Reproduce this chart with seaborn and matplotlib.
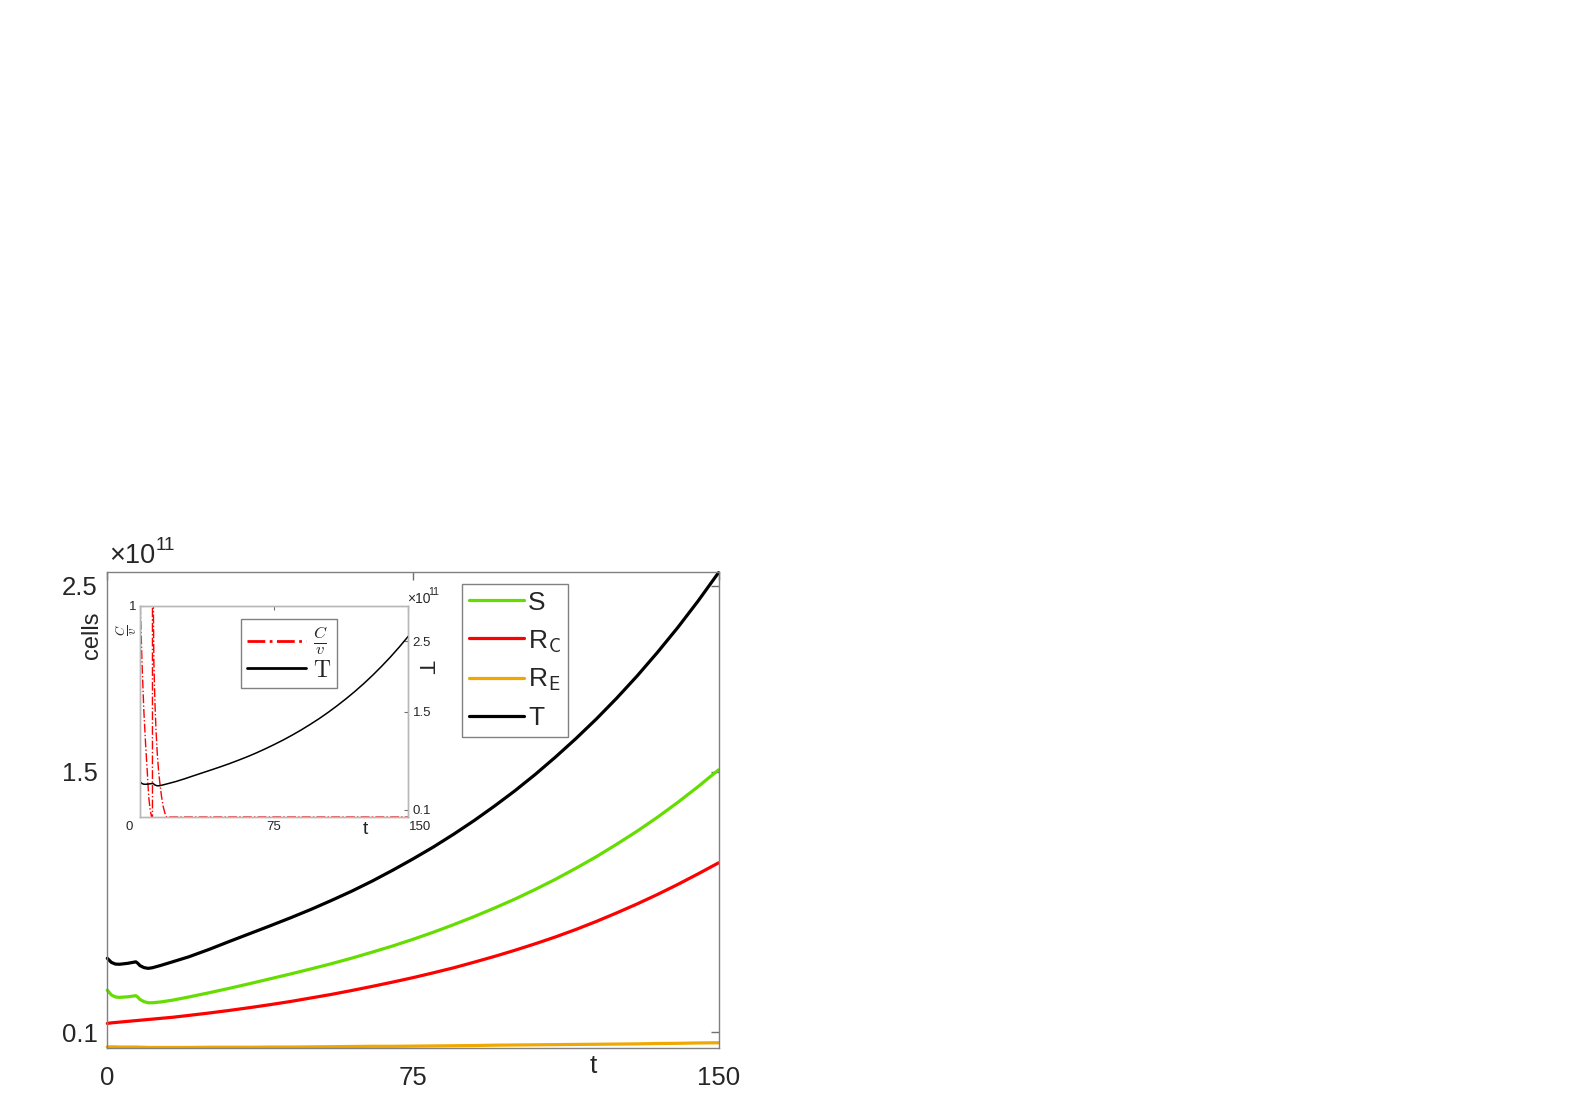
import matplotlib
matplotlib.use('Agg')
import matplotlib.pyplot as plt
from matplotlib.lines import Line2D
import seaborn as sns

# time points
t = [0, 1, 2, 3, 5, 7, 7.5, 8, 9, 10, 11, 13, 16, 20, 25, 30, 35, 40, 45, 50,
     55, 60, 65, 70, 75, 80, 85, 90, 95, 100, 105, 110, 115, 120, 125,
     130, 135, 140, 145, 150]

# cell populations, in units of 1e11 cells
T = [0.497, 0.475, 0.466, 0.465, 0.470, 0.478, 0.470, 0.458, 0.447, 0.443,
     0.446, 0.458, 0.478, 0.505, 0.545, 0.588, 0.630, 0.672, 0.715, 0.760,
     0.808, 0.858, 0.912, 0.970, 1.031, 1.095, 1.164, 1.237, 1.315, 1.397,
     1.485, 1.579, 1.678, 1.783, 1.895, 2.014, 2.141, 2.275, 2.418, 2.570]
S = [0.326, 0.300, 0.289, 0.287, 0.290, 0.296, 0.288, 0.276, 0.264, 0.258,
     0.258, 0.262, 0.272, 0.289, 0.312, 0.336, 0.361, 0.387, 0.413, 0.440,
     0.468, 0.498, 0.530, 0.563, 0.599, 0.637, 0.678, 0.721, 0.767, 0.815,
     0.867, 0.922, 0.981, 1.043, 1.110, 1.180, 1.255, 1.335, 1.420, 1.510]
R_C = [0.147, 0.150, 0.152, 0.154, 0.158, 0.162, 0.163, 0.164, 0.166, 0.168,
       0.170, 0.174, 0.180, 0.190, 0.203, 0.217, 0.232, 0.248, 0.265, 0.284,
       0.303, 0.324, 0.346, 0.369, 0.393, 0.419, 0.446, 0.476, 0.507, 0.540,
       0.575, 0.612, 0.652, 0.695, 0.741, 0.789, 0.840, 0.894, 0.951, 1.010]
R_E = [0.021, 0.021, 0.021, 0.020, 0.020, 0.020, 0.020, 0.019, 0.019, 0.018,
       0.018, 0.018, 0.018, 0.018, 0.019, 0.019, 0.019, 0.020, 0.020, 0.021,
       0.022, 0.023, 0.024, 0.024, 0.025, 0.026, 0.027, 0.028, 0.030, 0.031,
       0.032, 0.033, 0.034, 0.035, 0.036, 0.037, 0.039, 0.040, 0.042, 0.043]

# drug concentration C/v for the inset (two doses)
t_drug = [0, 0.5, 1, 1.5, 2, 2.5, 3, 3.5, 4, 4.7, 5.5, 6.3, 6.8, 6.8, 7.2,
          7.6, 8.2, 8.8, 9.5, 10.3, 11.1, 11.9, 12.8, 13.7, 14.7, 150]
c_over_v = [1.0, 0.86, 0.72, 0.61, 0.50, 0.42, 0.34, 0.27, 0.20, 0.096, 0.035,
            0.0, 0.0, 2.0, 1.1, 0.73, 0.54, 0.41, 0.30, 0.21, 0.15, 0.096,
            0.05, 0.02, 0.0, 0.0]

xticks = [0, 75, 150]
main_yticks = [0.1, 1.5, 2.5]
inset_yticks = [0.1, 1.5, 2.5]

sns.set_style('white')
plt.rcParams['font.family'] = ['Liberation Sans', 'DejaVu Sans']
plt.rcParams['mathtext.fontset'] = 'cm'

W, H = 1578, 1116
fig = plt.figure(figsize=(W / 100, H / 100), dpi=100)


def fx(px):
    return px / W


def fy(py):
    return 1 - py / H


# ---- main panel ----
ax = fig.add_axes([fx(107.3), fy(1047.6), fx(718.5) - fx(107.3), fy(572.3) - fy(1047.6)])
colors = {'S': '#66dd00', 'R_C': '#ff0000', 'R_E': '#f0a800', 'T': '#000000'}
for name, vals in [('S', S), ('R_C', R_C), ('R_E', R_E), ('T', T)]:
    sns.lineplot(x=t, y=vals, ax=ax, color=colors[name], lw=2.3,
                 estimator=None, sort=False, clip_on=False)

ax.set_xlim(0, 150)
ax.set_ylim(0.017, 2.572)
ax.set_xticks(xticks)
ax.set_yticks(main_yticks)
ax.set_xticklabels(['0', '75', '150'])
ax.set_yticklabels(['0.1', '1.5', '2.5'])
ax.tick_params(axis='both', direction='in', length=6, width=1, color='#707070',
               top=True, right=True, labelsize=18.5)
ax.tick_params(axis='y', pad=7)
ax.tick_params(axis='x', pad=13)
for sp in ax.spines.values():
    sp.set_color('#808080')
    sp.set_linewidth(1.0)

handles = [Line2D([], [], color=colors[k], lw=2.3) for k in ['S', 'R_C', 'R_E', 'T']]
labels = ['S', r'R$_{\mathsf{C}}$', r'R$_{\mathsf{E}}$', 'T']
leg = ax.legend(handles, labels, loc='upper left', bbox_to_anchor=(fx(462), fy(584)),
                bbox_transform=fig.transFigure, fontsize=19, frameon=True,
                fancybox=False, handlelength=2.1, handletextpad=0.15,
                labelspacing=0.5, borderpad=0.25, borderaxespad=0)
leg.get_frame().set_edgecolor('#606060')
leg.get_frame().set_linewidth(1.0)

fig.text(fx(92), fy(635), 'cells', rotation=90, ha='center', va='center', fontsize=17)
fig.text(fx(593), fy(1066), 't', ha='center', va='center', fontsize=19)
fig.text(fx(109), fy(556), '×10', ha='left', va='center', fontsize=19.5)
fig.text(fx(156), fy(545), '11', ha='left', va='center', fontsize=13.5)

# ---- inset ----
axin = fig.add_axes([fx(140.3), fy(817), fx(408.3) - fx(140.3), fy(606) - fy(817)])
axin2 = axin.twinx()
sns.lineplot(x=t_drug, y=c_over_v, ax=axin, color='red', lw=1.0, linestyle='-.',
             estimator=None, sort=False)
sns.lineplot(x=t, y=T, ax=axin2, color='black', lw=1.1, estimator=None, sort=False)

axin.set_xlim(0, 150)
axin.set_ylim(0, 1)
axin.set_xticks(xticks)
axin.set_xticklabels([])
axin.set_yticks([1])
axin.set_yticklabels(['1'])
axin2.set_ylim(0, 3.0)
axin2.set_yticks(inset_yticks)
axin2.set_yticklabels(['0.1', '1.5', '2.5'])
axin.set_ylabel('')
axin2.set_ylabel('')
axin.tick_params(axis='both', direction='in', length=3, width=0.8, color='#707070',
                 top=True, labelsize=9.5, pad=3)
axin2.tick_params(axis='y', direction='in', length=3, width=0.8, color='#707070',
                  labelsize=9.5, pad=3)
for a in (axin, axin2):
    for sp in a.spines.values():
        sp.set_color('#b8b8b8')
        sp.set_linewidth(1.0)

for lab, px in zip(['0', '75', '150'], [129, 274, 420]):
    fig.text(fx(px), fy(827), lab, ha='center', va='center', fontsize=9.5)
fig.text(fx(365), fy(830), 't', ha='center', va='center', fontsize=14)
fig.text(fx(127), fy(630), r'$\frac{C}{v}$', rotation=90, ha='center', va='center', fontsize=13)
fig.text(fx(424), fy(667), 'T', rotation=-90, ha='center', va='center', fontsize=16)
fig.text(fx(407), fy(599), '×10', ha='left', va='center', fontsize=10)
fig.text(fx(428), fy(592), '11', ha='left', va='center', fontsize=7.5)

in_handles = [Line2D([], [], color='red', lw=2, ls='-.'),
              Line2D([], [], color='black', lw=2)]
in_labels = [r'$\frac{C}{v}$', r'$\mathrm{T}$']
leg2 = axin2.legend(in_handles, in_labels, loc='upper left',
                    bbox_to_anchor=(fx(241.3), fy(619)), bbox_transform=fig.transFigure,
                    fontsize=17, frameon=True, fancybox=False, handlelength=2.5,
                    handletextpad=0.3, labelspacing=0.1, borderpad=0.25, borderaxespad=0)
leg2.get_frame().set_edgecolor('#606060')
leg2.get_frame().set_linewidth(1.0)

fig.savefig('out.png', dpi=100)
